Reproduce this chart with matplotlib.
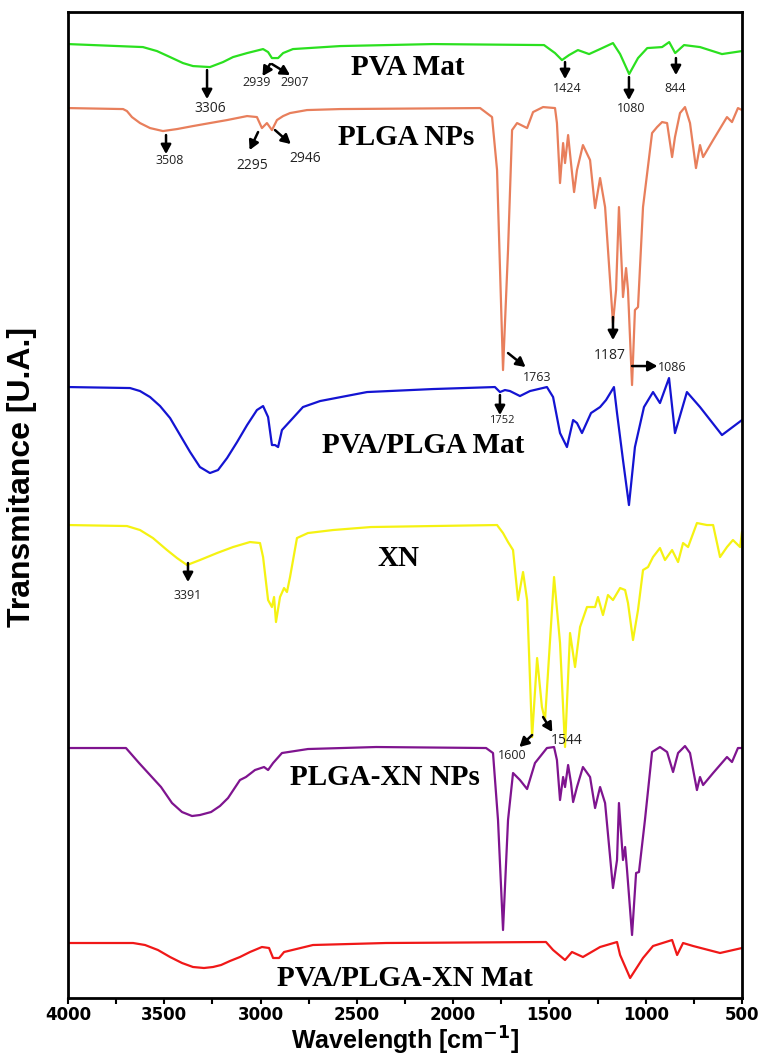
import numpy as np
import matplotlib
matplotlib.use("Agg")
import matplotlib.pyplot as plt
from matplotlib.ticker import MultipleLocator

# FTIR spectra (wavenumber in cm-1, transmittance in stacked arb. units)
pva_w = [4000, 3611, 3538, 3470, 3403, 3351, 3263, 3195, 3143, 3070, 2987, 2961, 2941, 2909,
         2883, 2832, 2587, 2105, 1528, 1471, 1435, 1398, 1352, 1294, 1237, 1170, 1133, 1086,
         1040, 992, 915, 878, 847, 801, 718, 604, 500]
pva_t = [954, 951, 947, 941, 935, 932, 931, 936, 941, 945, 949, 946, 940, 940,
         945, 949, 952, 954, 953, 945, 938, 943, 948, 944, 949, 955, 944, 924,
         940, 950, 951, 956, 945, 953, 951, 944, 947]

plga_w = [4000, 3714, 3694, 3668, 3626, 3574, 3507, 3434, 3351, 3263, 3174, 3070, 3019, 2993,
          2967, 2941, 2915, 2883, 2847, 2759, 2587, 1860, 1798, 1772, 1741, 1715, 1694, 1668,
          1616, 1585, 1533, 1471, 1461, 1445, 1429, 1419, 1403, 1388, 1372, 1357, 1326, 1289,
          1263, 1237, 1211, 1170, 1154, 1139, 1123, 1118, 1102, 1092, 1071, 1056, 1040, 1014,
          967, 941, 915, 889, 863, 848, 822, 796, 770, 739, 718, 702, 650, 578, 552, 521, 500]
plga_t = [890, 889, 887, 881, 875, 870, 867, 869, 872, 875, 878, 882, 881, 870,
          875, 868, 878, 882, 885, 888, 889, 890, 881, 828, 628, 748, 868, 875,
          870, 886, 891, 890, 875, 815, 855, 835, 863, 835, 806, 828, 853, 838,
          790, 820, 791, 675, 708, 791, 725, 701, 730, 708, 613, 688, 691, 791,
          865, 871, 876, 875, 841, 861, 885, 891, 875, 830, 853, 841, 858, 881, 876, 890, 888]

pvaplga_w = [4000, 3678, 3626, 3574, 3522, 3470, 3418, 3366, 3315, 3263, 3221, 3174, 3122, 3070,
             3019, 2987, 2961, 2941, 2925, 2909, 2889, 2832, 2780, 2691, 2447, 2105, 1783, 1757,
             1731, 1705, 1653, 1601, 1513, 1481, 1445, 1409, 1377, 1357, 1331, 1284, 1237, 1206,
             1165, 1149, 1118, 1087, 1056, 1009, 962, 926, 879, 848, 786, 718, 604, 500]
pvaplga_t = [611, 610, 607, 601, 592, 580, 563, 546, 531, 525, 528, 540, 556, 573,
             588, 592, 581, 553, 553, 551, 568, 580, 591, 597, 606, 609, 611, 606,
             608, 607, 602, 607, 611, 601, 565, 551, 578, 575, 565, 585, 591, 598,
             611, 585, 538, 493, 551, 591, 606, 595, 620, 565, 606, 591, 563, 578]

xn_w = [4000, 3694, 3626, 3559, 3486, 3434, 3382, 3315, 3226, 3143, 3055, 3003, 2987, 2961,
        2941, 2930, 2920, 2899, 2878, 2863, 2847, 2811, 2754, 2624, 2427, 2105, 1772, 1741,
        1715, 1689, 1663, 1637, 1616, 1590, 1564, 1539, 1523, 1476, 1445, 1419, 1393, 1367,
        1341, 1305, 1263, 1248, 1222, 1196, 1170, 1133, 1107, 1092, 1066, 1040, 1014, 988,
        962, 926, 900, 863, 832, 806, 780, 734, 682, 650, 614, 578, 547, 510, 500]
xn_t = [473, 472, 468, 460, 448, 440, 433, 438, 445, 451, 456, 455, 441, 398,
        391, 401, 376, 401, 410, 406, 421, 460, 465, 468, 471, 472, 473, 465,
        456, 448, 398, 426, 398, 261, 340, 291, 278, 421, 355, 251, 365, 331,
        371, 391, 391, 401, 383, 403, 398, 410, 408, 395, 358, 388, 428, 431,
        441, 450, 438, 448, 436, 455, 451, 475, 473, 473, 441, 451, 458, 451, 466]

plgaxn_w = [4000, 3699, 3631, 3574, 3517, 3460, 3408, 3356, 3315, 3257, 3211, 3169, 3107, 3076,
            3029, 2982, 2961, 2935, 2889, 2754, 2400, 1829, 1793, 1767, 1741, 1715, 1689, 1653,
            1616, 1575, 1513, 1476, 1461, 1445, 1429, 1419, 1403, 1388, 1377, 1357, 1326, 1289,
            1263, 1237, 1211, 1170, 1149, 1139, 1118, 1107, 1097, 1071, 1050, 1035, 1004, 967,
            926, 889, 858, 832, 796, 770, 734, 718, 702, 650, 578, 552, 521, 500]
plgaxn_t = [250, 250, 235, 223, 211, 195, 186, 182, 183, 186, 192, 200, 218, 221,
            228, 231, 228, 235, 245, 249, 251, 250, 245, 178, 68, 178, 225, 218,
            209, 235, 250, 251, 238, 198, 221, 211, 233, 215, 196, 211, 231, 221,
            190, 211, 195, 110, 138, 195, 138, 151, 128, 63, 125, 126, 178, 246,
            251, 246, 226, 245, 252, 245, 208, 221, 213, 225, 241, 236, 250, 250]

pvaplgaxn_w = [4000, 3662, 3600, 3533, 3470, 3408, 3351, 3294, 3247, 3205, 3159, 3107, 3055, 2993,
               2956, 2935, 2904, 2878, 2728, 2349, 1518, 1481, 1419, 1383, 1326, 1237, 1149, 1133,
               1081, 1014, 962, 863, 837, 806, 754, 614, 500]
pvaplgaxn_t = [55, 55, 53, 48, 41, 35, 31, 30, 31, 33, 37, 41, 46, 51,
               50, 40, 40, 46, 53, 55, 56, 48, 38, 46, 41, 51, 56, 43,
               20, 40, 52, 58, 43, 55, 52, 45, 50]

names = ["PVA Mat", "PLGA NPs", "PVA/PLGA Mat", "XN", "PLGA-XN NPs", "PVA/PLGA-XN Mat"]
colors = ["#2be01f", "#e87f5c", "#1414d2", "#f5f212", "#7f148f", "#f01818"]

fig = plt.figure(figsize=(7.59, 10.59), dpi=100)
ax = fig.add_axes([0.0896, 0.0576, 0.888, 0.931])

spectra = [(pva_w, pva_t), (plga_w, plga_t), (pvaplga_w, pvaplga_t),
           (xn_w, xn_t), (plgaxn_w, plgaxn_t), (pvaplgaxn_w, pvaplgaxn_t)]
for (w, t), c in zip(spectra, colors):
    ax.plot(w, t, color=c, lw=1.6, solid_joinstyle="round")

# sample names
name_pos = [(2234, 931), (2245, 861), (2157, 553), (2286, 440), (2354, 221), (2250, 20)]
for nm, (x, y) in zip(names, name_pos):
    ax.text(x, y, nm, ha="center", va="center", fontsize=21, fontweight="bold",
            family="Liberation Serif")

# peak annotations: label, arrow tail, arrow head, text position, font size
notes = [
    ("3306", (3278, 928), (3278, 899), (3263, 890), 10),
    ("2939", (2951, 934), (2990, 922), (3019, 916), 9),
    ("2907", (2941, 934), (2847, 923), (2821, 916), 9),
    ("1424", (1419, 936), (1419, 919), (1409, 910), 9),
    ("1080", (1087, 921), (1087, 898), (1076, 890), 9),
    ("844", (843, 940), (843, 923), (848, 910), 9),
    ("3508", (3491, 863), (3491, 844), (3470, 838), 9),
    ("2295", (3013, 866), (3057, 848), (3045, 833), 10),
    ("2946", (2925, 868), (2843, 854), (2769, 840), 10),
    ("1763", (1715, 645), (1624, 631), (1564, 621), 9),
    ("1187", (1170, 681), (1170, 658), (1185, 643), 10),
    ("1086", (1071, 632), (939, 632), (936, 631), 9),
    ("1752", (1757, 603), (1757, 583), (1746, 578), 8),
    ("3391", (3377, 435), (3377, 416), (3377, 403), 9),
    ("1600", (1590, 263), (1656, 251), (1694, 243), 9),
    ("1544", (1533, 281), (1485, 266), (1409, 258), 10),
]
for lab, tail, head, tpos, fs in notes:
    ax.annotate("", xy=head, xytext=tail,
                arrowprops=dict(arrowstyle="-|>,head_length=0.55,head_width=0.3",
                                color="black", lw=1.8, shrinkA=0, shrinkB=0))
    ha = "left" if lab == "1086" else "center"
    ax.text(tpos[0], tpos[1], lab, ha=ha, va="center", fontsize=fs, family="Open Sans",
            color="#222222")

ax.set_xlim(4000, 500)
ax.set_ylim(0, 986)
ax.xaxis.set_major_locator(MultipleLocator(500))
ax.xaxis.set_minor_locator(MultipleLocator(250))
ax.tick_params(axis="x", which="both", direction="out", width=1.5, length=4,
               labelsize=12, pad=2)
ax.tick_params(axis="y", left=False, labelleft=False)
for lbl in ax.get_xticklabels():
    lbl.set_fontweight("bold")
for s in ax.spines.values():
    s.set_linewidth(2)

ax.set_xlabel("Wavelength [cm$^{\\mathbf{-1}}$]", fontsize=18, fontweight="bold",
              family="Liberation Sans", labelpad=0)
ax.set_ylabel("Transmitance [U.A.]", fontsize=23, fontweight="bold",
              family="Liberation Sans")
ax.yaxis.set_label_coords(-0.046, 0.528)

fig.savefig("out.png", dpi=100)
